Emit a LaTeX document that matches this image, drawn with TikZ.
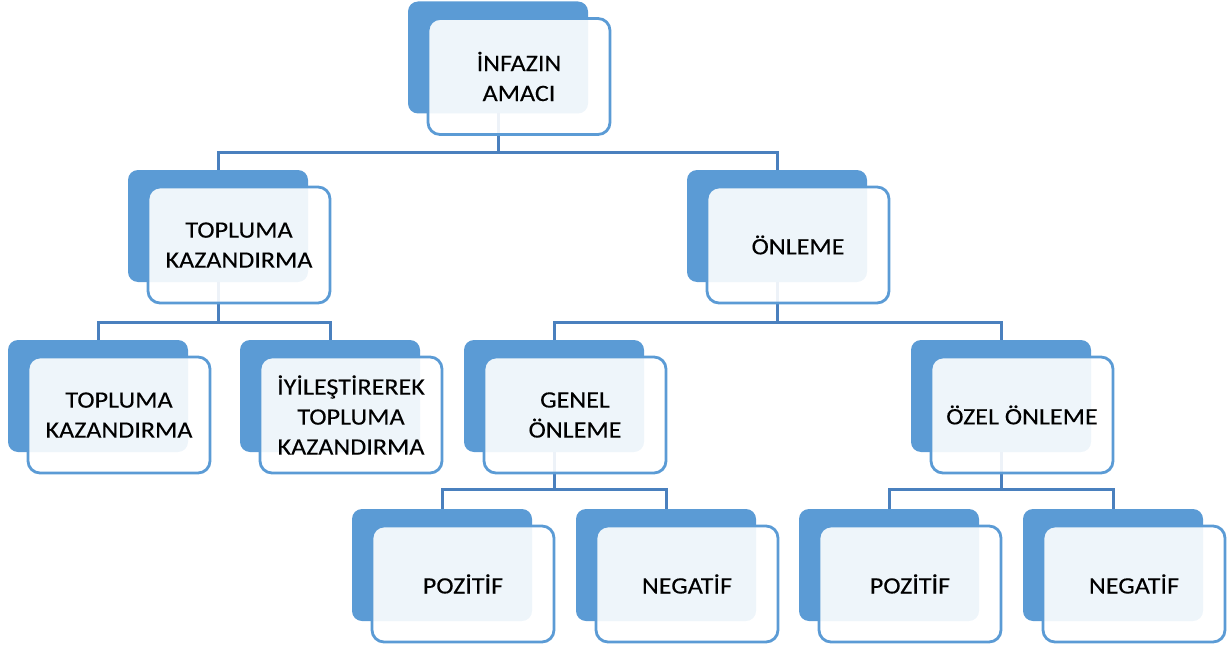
\documentclass[tikz,border=0pt]{standalone}
\usepackage{fontspec}
\setmainfont{Carlito}[FakeStretch=1.11,FakeBold=0.2]
\definecolor{boxblue}{HTML}{5B9BD5}
\definecolor{connblue}{HTML}{4A80BE}
\begin{document}
\begin{tikzpicture}[x=1pt,y=-1pt,
  back/.style={rectangle, rounded corners=10pt, fill=boxblue, minimum width=180pt, minimum height=112pt, inner sep=0pt, outer sep=0pt},
  front/.style={rectangle, rounded corners=12pt, draw=boxblue, line width=2.8pt, fill=white, fill opacity=0.9, draw opacity=1, text opacity=1, minimum width=182pt, minimum height=116pt, inner sep=0pt, outer sep=0pt, align=center, font=\fontsize{23.5}{30}\selectfont, text=black},
  conn/.style={draw=connblue, line width=3pt}
]
\useasboundingbox (0,0) rectangle (1231,650);
% back boxes
\node[back] (a)  at (498,57.5) {};
\node[back] (b1) at (218,226) {};
\node[back] (b2) at (777,226) {};
\node[back] (c1) at (98,396) {};
\node[back] (c2) at (330,396) {};
\node[back] (c3) at (554,396) {};
\node[back] (c4) at (1001,396) {};
\node[back] (d1) at (442,565) {};
\node[back] (d2) at (666,565) {};
\node[back] (d3) at (889,565) {};
\node[back] (d4) at (1113,565) {};
% connectors
\draw[conn] (a.south) -- ++(0,39) -| (b1.north);
\draw[conn] (a.south) -- ++(0,39) -| (b2.north);
\draw[conn] (b1.south) -- ++(0,40) -| (c1.north);
\draw[conn] (b1.south) -- ++(0,40) -| (c2.north);
\draw[conn] (b2.south) -- ++(0,40) -| (c3.north);
\draw[conn] (b2.south) -- ++(0,40) -| (c4.north);
\draw[conn] (c3.south) -- ++(0,37) -| (d1.north);
\draw[conn] (c3.south) -- ++(0,37) -| (d2.north);
\draw[conn] (c4.south) -- ++(0,37) -| (d3.north);
\draw[conn] (c4.south) -- ++(0,37) -| (d4.north);
% front boxes with labels
\node[front] (af)  at ([shift={(21,19)}]a.center)  {İNFAZIN\\AMACI};
\node[front] (b1f) at ([shift={(21,19)}]b1.center) {TOPLUMA\\KAZANDIRMA};
\node[front] (b2f) at ([shift={(21,19)}]b2.center) {ÖNLEME};
\node[front] (c1f) at ([shift={(21,19)}]c1.center) {TOPLUMA\\KAZANDIRMA};
\node[front] (c2f) at ([shift={(21,19)}]c2.center) {İYİLEŞTİREREK\\TOPLUMA\\KAZANDIRMA};
\node[front] (c3f) at ([shift={(21,19)}]c3.center) {GENEL\\ÖNLEME};
\node[front] (c4f) at ([shift={(21,19)}]c4.center) {ÖZEL ÖNLEME};
\node[front] (d1f) at ([shift={(21,19)}]d1.center) {POZİTİF};
\node[front] (d2f) at ([shift={(21,19)}]d2.center) {NEGATİF};
\node[front] (d3f) at ([shift={(21,19)}]d3.center) {POZİTİF};
\node[front] (d4f) at ([shift={(21,19)}]d4.center) {NEGATİF};
\end{tikzpicture}
\end{document}
